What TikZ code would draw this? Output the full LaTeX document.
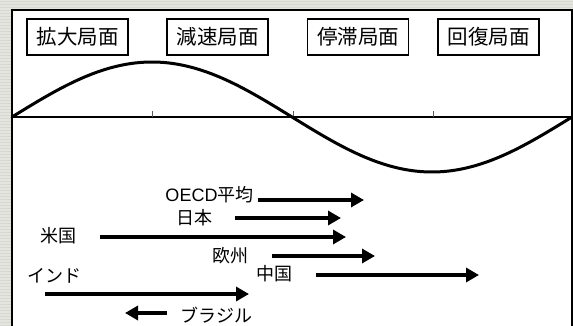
\documentclass[tikz,border=0pt]{standalone}
\usepackage{fontspec}
\newfontfamily\jp{Noto Sans CJK JP}
\newfontfamily\latn{Liberation Sans}
\usetikzlibrary{arrows.meta}
\definecolor{bgcol}{RGB}{229,229,224}
\definecolor{bgline}{RGB}{216,216,210}
\tikzset{
  phasebox/.style={draw, line width=1.2pt, minimum width=101pt, minimum height=36pt, inner sep=0pt, font=\jp\fontsize{20.5}{20.5}\selectfont},
  lbl/.style={inner sep=0pt, font=\jp\fontsize{18}{18}\selectfont},
  bigarrow/.style={line width=3.6pt, -{Triangle[length=13pt,width=14pt]}},
}
\begin{document}
\begin{tikzpicture}[x=1pt,y=-1pt]
\useasboundingbox (0,0) rectangle (573,326);
\clip (0,0) rectangle (573,326);
% background
\fill[bgcol] (0,0) rectangle (573,326);
\foreach \yy in {1,4,...,326} {\draw[bgline, line width=0.8pt] (0,\yy) -- (12,\yy);}
\foreach \yy in {1,4,7} {\draw[bgline, line width=0.8pt] (0,\yy) -- (573,\yy);}
% white panel
\filldraw[fill=white, draw=black, line width=1.6pt] (12,340) -- (12,10) -- (572,10) -- (572,340);
% axis
\coordinate (axL) at (12,117);
\coordinate (axR) at (572,117);
\draw[line width=1.6pt] (axL) -- (axR);
\foreach \xx in {152,293,433} {\draw[line width=0.6pt, gray!70!black] (\xx,117) -- (\xx,111);}
% sine
\draw[line width=3pt, line cap=round] plot[domain=12:572, samples=120, smooth] (\x, {117-55*sin((\x-12)/560*360)});
% phase boxes
\node[phasebox] (p1) at (77.5,37) {拡大局面};
\node[phasebox] (p2) at (217.5,37) {減速局面};
\node[phasebox] (p3) at (358,37) {停滞局面};
\node[phasebox] (p4) at (488.5,37) {回復局面};
% labels
\node[lbl] (oecd) at (209.5,195) {{\latn OECD}平均};
\node[lbl] (jpn) at (194.5,218) {日本};
\node[lbl] (usa) at (58.5,236) {米国};
\node[lbl] (eu) at (230,256) {欧州};
\node[lbl] (chn) at (274.5,274) {中国};
\node[lbl] (ind) at (54.5,276) {インド};
\node[lbl] (bra) at (216.5,315) {ブラジル};
% arrow ends
\coordinate (oecdS) at (258,200); \coordinate (oecdE) at (364,200);
\coordinate (jpnS) at (235,218);  \coordinate (jpnE) at (341,218);
\coordinate (usaS) at (100,237);  \coordinate (usaE) at (346,237);
\coordinate (euS) at (272,256);   \coordinate (euE) at (375,256);
\coordinate (chnS) at (316,275);  \coordinate (chnE) at (479,275);
\coordinate (indS) at (45,294);   \coordinate (indE) at (249,294);
\coordinate (braS) at (167,313);  \coordinate (braE) at (125,313);
\draw[bigarrow] (oecdS) -- (oecdE);
\draw[bigarrow] (jpnS) -- (jpnE);
\draw[bigarrow] (usaS) -- (usaE);
\draw[bigarrow] (euS) -- (euE);
\draw[bigarrow] (chnS) -- (chnE);
\draw[bigarrow] (indS) -- (indE);
\draw[bigarrow] (braS) -- (braE);
\end{tikzpicture}
\end{document}
